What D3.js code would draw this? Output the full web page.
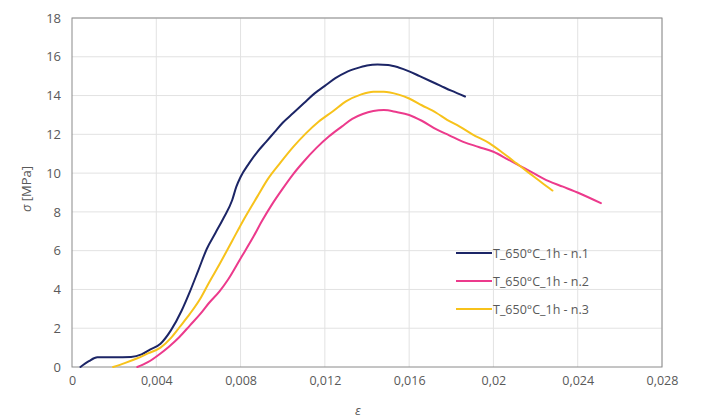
<!DOCTYPE html>
<html>
<head>
<meta charset="utf-8">
<script src="https://cdn.jsdelivr.net/npm/d3@7/dist/d3.min.js"></script>
<style>
  html, body { margin: 0; padding: 0; background: #fff; }
  svg { display: block; }
  text { font-family: "Open Sans", "Liberation Sans", sans-serif; }
</style>
</head>
<body>
<svg id="chart" width="706" height="419"></svg>
<script>
// Stress–strain curves, three specimens treated at 650 °C for 1 h
const xTicks = [0, 0.004, 0.008, 0.012, 0.016, 0.02, 0.024, 0.028];
const xTickLabels = ["0", "0,004", "0,008", "0,012", "0,016", "0,02", "0,024", "0,028"];
const yTicks = [0, 2, 4, 6, 8, 10, 12, 14, 16, 18];
const seriesNames = ["T_650°C_1h - n.1", "T_650°C_1h - n.2", "T_650°C_1h - n.3"];
const seriesColors = ["#1c2566", "#ec3a8c", "#f7c21b"];

// [strain, stress MPa]
const specimen1 = [
  [0.0004, 0], [0.0008, 0.3], [0.0012, 0.5], [0.0020, 0.5], [0.0028, 0.52],
  [0.0033, 0.65], [0.0037, 0.9], [0.0042, 1.2], [0.0047, 1.9], [0.0052, 2.9],
  [0.0056, 3.9], [0.0060, 5.0], [0.0064, 6.1], [0.0068, 6.9], [0.0072, 7.7],
  [0.0076, 8.6], [0.0078, 9.3], [0.0080, 9.8], [0.0084, 10.5], [0.0088, 11.1],
  [0.0092, 11.6], [0.0096, 12.1], [0.0100, 12.6], [0.0105, 13.1], [0.0110, 13.6],
  [0.0115, 14.1], [0.0120, 14.5], [0.0125, 14.9], [0.0130, 15.2], [0.0135, 15.4],
  [0.0140, 15.55], [0.0145, 15.6], [0.0150, 15.58], [0.0155, 15.45], [0.0160, 15.25],
  [0.0165, 15.0], [0.0170, 14.75], [0.0175, 14.5], [0.0180, 14.25], [0.01865, 13.95]
];
const specimen2 = [
  [0.0031, 0], [0.0036, 0.25], [0.0042, 0.7], [0.0046, 1.05], [0.0051, 1.55],
  [0.0056, 2.15], [0.0061, 2.75], [0.0065, 3.3], [0.0070, 3.9], [0.0074, 4.5],
  [0.0080, 5.6], [0.0086, 6.7], [0.0090, 7.5], [0.0095, 8.4], [0.0100, 9.2],
  [0.0105, 9.95], [0.0110, 10.6], [0.0116, 11.3], [0.0122, 11.9], [0.0128, 12.4],
  [0.0133, 12.8], [0.0138, 13.05], [0.0143, 13.2], [0.0148, 13.25], [0.0154, 13.15],
  [0.0160, 13.0], [0.0166, 12.7], [0.0173, 12.25], [0.0179, 11.95], [0.0186, 11.6],
  [0.0193, 11.35], [0.0200, 11.1], [0.0207, 10.7], [0.0213, 10.35], [0.0219, 10.0],
  [0.0226, 9.6], [0.0233, 9.3], [0.0241, 8.95], [0.0251, 8.45]
];
const specimen3 = [
  [0.00195, 0], [0.0025, 0.2], [0.0031, 0.45], [0.0036, 0.7], [0.0042, 1.0],
  [0.0047, 1.5], [0.0051, 2.05], [0.0056, 2.75], [0.0061, 3.55], [0.0065, 4.35],
  [0.0070, 5.3], [0.0076, 6.5], [0.0082, 7.7], [0.0088, 8.8], [0.0093, 9.7],
  [0.0099, 10.55], [0.0105, 11.35], [0.0111, 12.05], [0.0117, 12.65], [0.0124, 13.2],
  [0.0130, 13.7], [0.0137, 14.05], [0.0143, 14.2], [0.0148, 14.2], [0.0155, 14.05],
  [0.0160, 13.85], [0.0166, 13.5], [0.0173, 13.1], [0.0178, 12.75], [0.0184, 12.4],
  [0.0190, 12.0], [0.0198, 11.55], [0.0205, 11.0], [0.0211, 10.5], [0.0217, 10.0],
  [0.0223, 9.5], [0.0228, 9.1]
];
const allSeries = [specimen1, specimen2, specimen3];

const svg = d3.select("#chart");
const plot = { left: 72, right: 662, top: 18, bottom: 367 };

const x = d3.scaleLinear().domain([0, 0.028]).range([plot.left, plot.right]);
const y = d3.scaleLinear().domain([0, 18]).range([plot.bottom, plot.top]);

// gridlines
const grid = svg.append("g");
grid.selectAll("line.h").data(yTicks.slice(1)).join("line")
  .attr("x1", plot.left).attr("x2", plot.right)
  .attr("y1", d => y(d)).attr("y2", d => y(d))
  .attr("stroke", "#e2e2e2").attr("stroke-width", 1);
grid.selectAll("line.v").data(xTicks.slice(1)).join("line")
  .attr("y1", plot.top).attr("y2", plot.bottom)
  .attr("x1", d => x(d)).attr("x2", d => x(d))
  .attr("stroke", "#e2e2e2").attr("stroke-width", 1);

// axes (labels only, no tick marks)
const xAxis = d3.axisBottom(x).tickValues(xTicks)
  .tickFormat((d, i) => xTickLabels[i]).tickSize(0).tickPadding(9);
const gx = svg.append("g").attr("transform", `translate(0,${plot.bottom})`).call(xAxis);
gx.select(".domain").remove();
gx.selectAll("text").attr("fill", "#595959").style("font-size", "12.5px");

const yAxis = d3.axisLeft(y).tickValues(yTicks).tickSize(0).tickPadding(11);
const gy = svg.append("g").attr("transform", `translate(${plot.left},0)`).call(yAxis);
gy.select(".domain").remove();
gy.selectAll("text").attr("fill", "#595959").style("font-size", "13px");

// plot frame
svg.append("rect")
  .attr("x", plot.left).attr("y", plot.top)
  .attr("width", plot.right - plot.left).attr("height", plot.bottom - plot.top)
  .attr("fill", "none").attr("stroke", "#8a8a8a").attr("stroke-width", 1);

// curves
const line = d3.line().x(d => x(d[0])).y(d => y(d[1])).curve(d3.curveMonotoneX);
svg.append("g").selectAll("path").data(allSeries).join("path")
  .attr("d", line)
  .attr("fill", "none")
  .attr("stroke", (d, i) => seriesColors[i])
  .attr("stroke-width", 2)
  .attr("stroke-linejoin", "round")
  .attr("stroke-linecap", "round");

// legend
const legend = svg.append("g").attr("transform", "translate(456,253)");
const items = legend.selectAll("g").data(seriesNames).join("g")
  .attr("transform", (d, i) => `translate(0,${i * 28})`);
items.append("line").attr("x1", 0).attr("x2", 36).attr("y1", 0).attr("y2", 0)
  .attr("stroke", (d, i) => seriesColors[i]).attr("stroke-width", 2);
items.append("text").attr("x", 37).attr("y", 4.5)
  .attr("fill", "#595959").style("font-size", "12.5px").text(d => d);

// axis titles
svg.append("text")
  .attr("transform", "translate(31,189) rotate(-90)")
  .attr("text-anchor", "middle").attr("fill", "#595959").style("font-size", "13px")
  .html('<tspan font-style="italic">σ</tspan> [MPa]');
svg.append("text")
  .attr("x", 358).attr("y", 415)
  .attr("text-anchor", "middle").attr("fill", "#595959").style("font-size", "13px")
  .attr("font-style", "italic").text("ε");
</script>
</body>
</html>
